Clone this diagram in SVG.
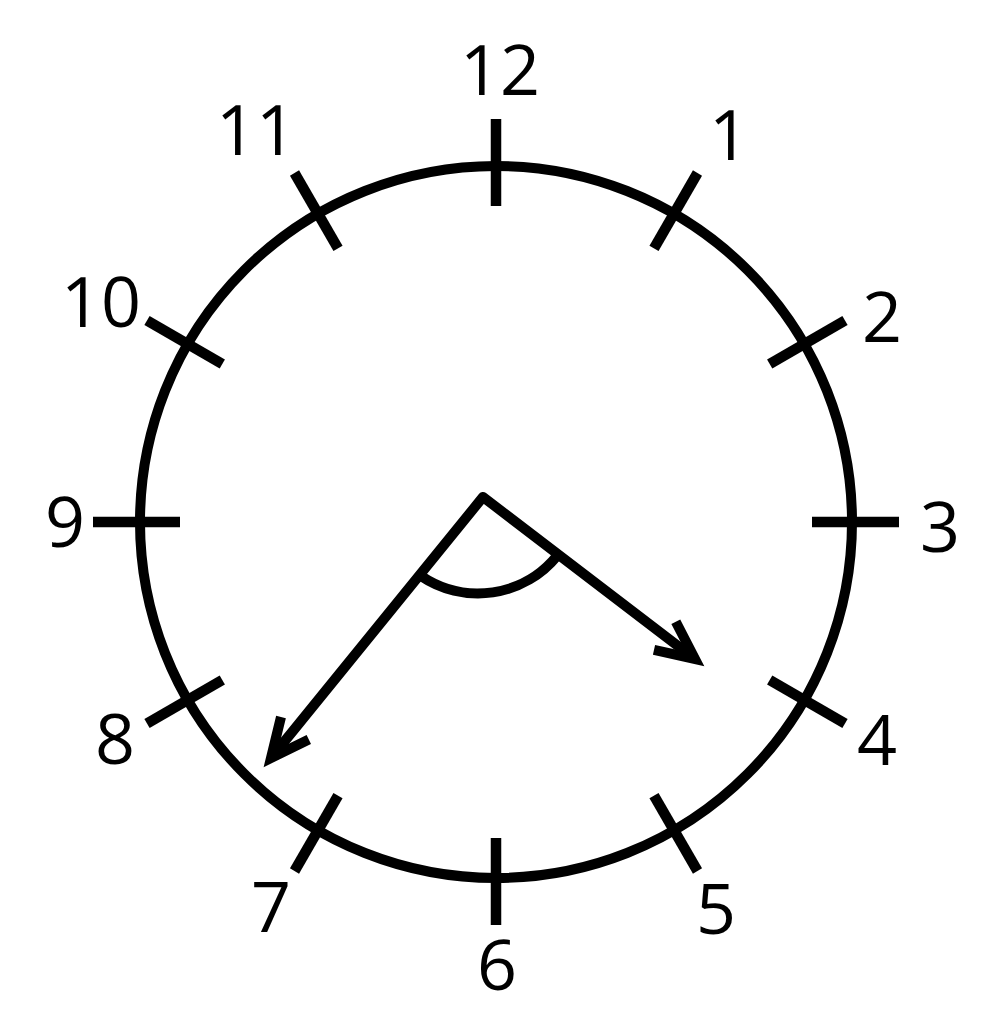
<svg xmlns="http://www.w3.org/2000/svg" width="994" height="1022" viewBox="0 0 994 1022">
<style>
.face{fill:none;stroke:#000;stroke-width:10}
.tick{stroke:#000;stroke-width:10.5;stroke-linecap:butt}
.hand{fill:none;stroke:#000;stroke-width:10;stroke-linejoin:round}
.head{fill:none;stroke:#000;stroke-width:10;stroke-linejoin:miter;stroke-miterlimit:10}
.num{font-family:"Open Sans","Noto Sans","DejaVu Sans",sans-serif;font-size:70px;fill:#000;text-anchor:middle}
</style>
<rect width="994" height="1022" fill="#fff"/>
<g id="face">
<circle class="face" cx="496" cy="522" r="356"/>
</g>
<g id="ticks">
<line class="tick" x1="496" y1="206" x2="496" y2="119"/>
<line class="tick" x1="654" y1="248.3" x2="697.5" y2="173"/>
<line class="tick" x1="769.7" y1="364" x2="845" y2="320.5"/>
<line class="tick" x1="812" y1="522" x2="899" y2="522"/>
<line class="tick" x1="769.7" y1="680" x2="845" y2="723.5"/>
<line class="tick" x1="654" y1="795.7" x2="697.5" y2="871"/>
<line class="tick" x1="496" y1="838" x2="496" y2="925"/>
<line class="tick" x1="338" y1="795.7" x2="294.5" y2="871"/>
<line class="tick" x1="222.3" y1="680" x2="147" y2="723.5"/>
<line class="tick" x1="180" y1="522" x2="93" y2="522"/>
<line class="tick" x1="222.3" y1="364" x2="147" y2="320.5"/>
<line class="tick" x1="338" y1="248.3" x2="294.5" y2="173"/>
</g>
<g id="labels">
<text class="num" x="500" y="95">12</text>
<text class="num" x="729" y="160">1</text>
<text class="num" x="882" y="342">2</text>
<text class="num" x="940" y="552">3</text>
<text class="num" x="877" y="765">4</text>
<text class="num" x="716" y="934">5</text>
<text class="num" x="497" y="990">6</text>
<text class="num" x="271" y="932">7</text>
<text class="num" x="115" y="764">8</text>
<text class="num" x="65" y="547">9</text>
<text class="num" x="101" y="327">10</text>
<text class="num" x="256" y="155">11</text>
</g>
<g id="connectors">
<path class="hand" d="M271,758 L483,497 L695,659"/>
<path class="head" d="M675.8,621.7 L695,659 L654,649.8"/>
<path class="head" d="M308.8,739.5 L271,758 L281,717"/>
<path class="hand" d="M421,576 A102,102 0 0 0 557,556"/>
</g>
</svg>
